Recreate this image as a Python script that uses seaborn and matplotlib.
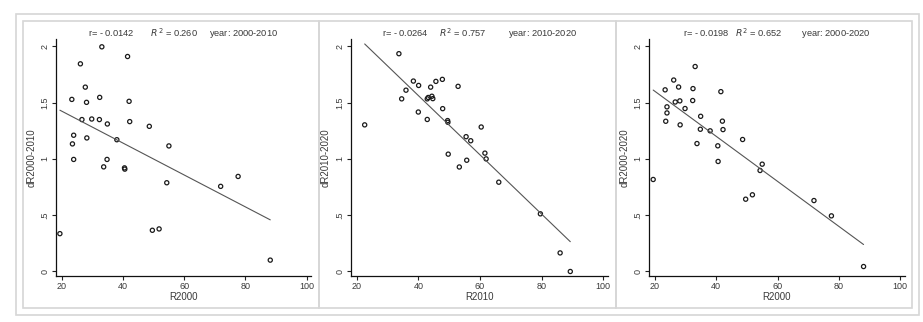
import matplotlib
matplotlib.use("Agg")
import matplotlib.pyplot as plt
from matplotlib.patches import Rectangle
import pandas as pd
import seaborn as sns

# ---- data -------------------------------------------------------------
r2000 = [19.4, 23.3, 23.5, 23.9, 23.9, 26.1, 26.6, 27.7, 28.1, 28.2, 29.8,
         32.3, 32.4, 33.1, 33.7, 34.8, 34.9, 38.0, 40.5, 40.6, 41.5, 42.0,
         42.2, 48.6, 49.6, 51.8, 54.3, 55.0, 71.9, 77.6, 88.1]
dr_2000_2010 = [0.336, 1.528, 1.133, 0.995, 1.210, 1.844, 1.349, 1.637, 1.502,
                1.186, 1.354, 1.349, 1.546, 1.995, 0.929, 0.995, 1.310, 1.170,
                0.920, 0.909, 1.909, 1.511, 1.331, 1.289, 0.366, 0.378, 0.788,
                1.115, 0.756, 0.844, 0.101]
dr_2000_2020 = [0.817, 1.613, 1.334, 1.462, 1.408, 1.700, 1.505, 1.638, 1.515,
                1.302, 1.447, 1.518, 1.624, 1.820, 1.136, 1.263, 1.378, 1.249,
                1.116, 0.977, 1.597, 1.335, 1.260, 1.172, 0.642, 0.681, 0.897,
                0.953, 0.630, 0.494, 0.044]
r2010 = [22.6, 33.7, 34.6, 36.0, 38.4, 40.1, 40.0, 42.9, 42.9, 43.2, 44.0,
         44.4, 44.7, 45.7, 47.8, 47.9, 49.5, 49.6, 49.7, 52.9, 53.3, 55.5,
         55.7, 57.0, 60.4, 61.6, 62.0, 66.1, 79.6, 86.0, 89.3]
dr_2010_2020 = [1.302, 1.934, 1.533, 1.610, 1.691, 1.652, 1.416, 1.533, 1.350,
                1.545, 1.637, 1.556, 1.535, 1.688, 1.706, 1.446, 1.340, 1.325,
                1.042, 1.644, 0.928, 1.197, 0.988, 1.161, 1.283, 1.051, 1.000,
                0.793, 0.512, 0.165, 0.000]

x_names = ["R2000", "R2010", "R2000"]
y_names = ["dR2000-2010", "dR2010-2020", "dR2000-2020"]
slopes = ["- 0.0142", "- 0.0264", "- 0.0198"]
r_squared = ["0.260", "0.757", "0.652"]
periods = ["2000-2010", "2010-2020", "2000-2020"]
x_ticks = [20, 40, 60, 80, 100]
y_ticks = [0, 0.5, 1, 1.5, 2]
y_tick_labels = ["0", ".5", "1", "1.5", "2"]

panels = [
    pd.DataFrame({x_names[0]: r2000, y_names[0]: dr_2000_2010}),
    pd.DataFrame({x_names[1]: r2010, y_names[1]: dr_2010_2020}),
    pd.DataFrame({x_names[2]: r2000, y_names[2]: dr_2000_2020}),
]

# ---- style ------------------------------------------------------------
sns.set_style("white")
plt.rcParams["font.family"] = ["Liberation Sans Narrow", "Liberation Sans", "DejaVu Sans"]
plt.rcParams["mathtext.fontset"] = "custom"
plt.rcParams["mathtext.rm"] = "Liberation Sans Narrow"
plt.rcParams["mathtext.it"] = "Liberation Sans Narrow:italic"

text_col = "#3a3a3a"
frame_col = "#d6d6d6"

W, H = 923, 322
fig = plt.figure(figsize=(W / 100, H / 100), dpi=100)
fig.patch.set_facecolor("white")


def fig_rect(x0, y0, x1, y1, **kw):
    """Rectangle given in pixel coordinates measured from the top-left."""
    return Rectangle((x0 / W, 1 - y1 / H), (x1 - x0) / W, (y1 - y0) / H,
                     transform=fig.transFigure, fill=False, **kw)


# outer frame and the three panel frames
fig.add_artist(fig_rect(16, 14, 919, 315, ec=frame_col, lw=1.2))
panel_edges = [22.7, 319, 615.7, 912]
for i in range(3):
    fig.add_artist(fig_rect(panel_edges[i], 20.7, panel_edges[i + 1], 308,
                            ec=frame_col, lw=1.2))

# plot regions (pixel extents left/right), shared top/bottom
ax_lr = [(55.6, 311.3), (350.5, 607.9), (648.9, 904.6)]
ax_top, ax_bottom = 39.5, 276.0
# spacing between the three parts of each heading
title_gaps = [(7, 5), (5, 9), (3, 8)]

for i, df in enumerate(panels):
    l, r = ax_lr[i]
    ax = fig.add_axes([l / W, 1 - ax_bottom / H, (r - l) / W, (ax_bottom - ax_top) / H])
    sns.regplot(data=df, x=x_names[i], y=y_names[i], ax=ax, ci=None,
                scatter_kws=dict(s=9, facecolors="none", color="#1a1a1a",
                                 linewidths=0.9, alpha=1),
                line_kws=dict(color="#555555", lw=0.8))
    ax.set_xlim(18, 101.5)
    ax.set_ylim(-0.04, 2.06)
    ax.set_xticks(x_ticks)
    ax.set_yticks(y_ticks)
    ax.set_yticklabels(y_tick_labels, rotation=90, va="center")
    ax.tick_params(axis="both", direction="out", length=3, width=0.8,
                   colors="#222222", labelcolor=text_col, labelsize=6.5, pad=1.5,
                   left=True, bottom=True)
    for s in ["top", "right"]:
        ax.spines[s].set_visible(False)
    for s in ["left", "bottom"]:
        ax.spines[s].set_color("#111111")
        ax.spines[s].set_linewidth(0.9)
    ax.set_xlabel(x_names[i], fontsize=7, labelpad=0.5, color=text_col)
    ax.set_ylabel(y_names[i], fontsize=7, labelpad=3, color=text_col)
    g1, g2 = title_gaps[i]
    title = (f"r= {slopes[i]}" + " " * g1 + f"$R^2$ = {r_squared[i]}"
             + " " * g2 + f"year: {periods[i]}")
    ax.set_title(title, fontsize=6.7, pad=2.0, color=text_col)
    ax.set_facecolor("white")

fig.savefig("out.png", dpi=100, facecolor="white")
